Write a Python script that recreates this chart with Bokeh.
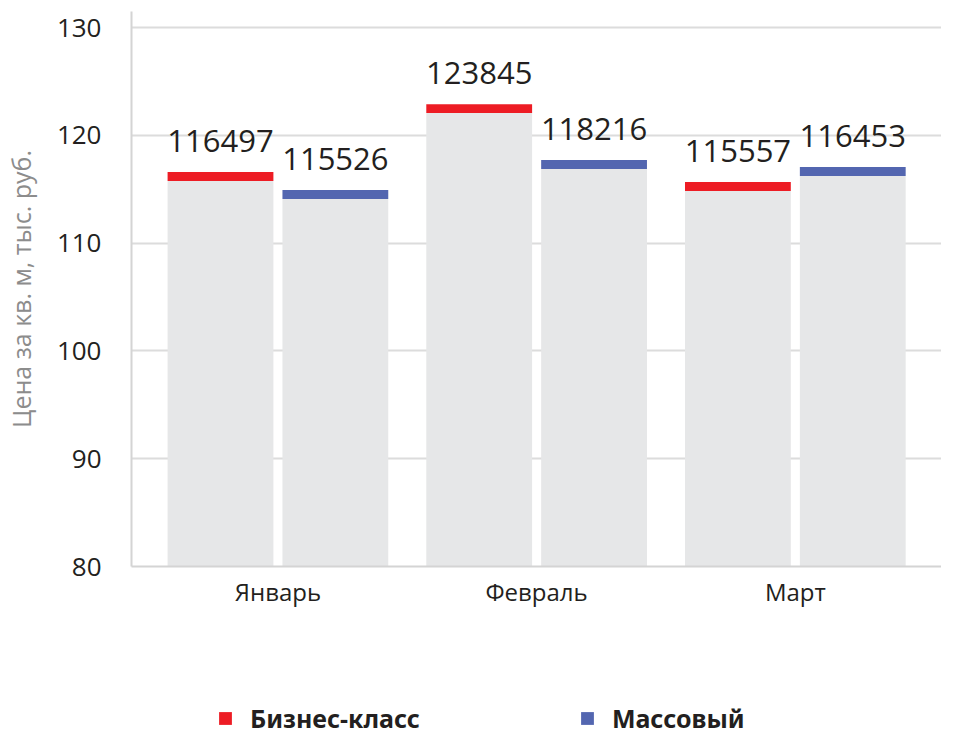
from bokeh.plotting import figure
from bokeh.layouts import column
from bokeh.models import Range1d, FixedTicker, ColumnDataSource, Legend, LegendItem
from bokeh.embed import file_html
from bokeh.resources import INLINE
from bokeh.core.properties import value

# ---- data ----
months = ["Январь", "Февраль", "Март"]
# printed labels (руб. за кв. м)
business_labels = [116497, 123845, 115557]
mass_labels = [115526, 118216, 116453]
# bar heights as drawn in the picture (тыс. руб.)
business_tops = [116.6, 122.9, 115.68]
mass_tops = [114.94, 117.71, 117.06]
series_names = ["Бизнес-класс", "Массовый"]
series_colors = ["#ED1C24", "#5366B0"]
y_ticks = [80, 90, 100, 110, 120, 130]

# ---- styling constants ----
Y0 = 80
CAP = 0.83
BAR_W = 0.409
OFFSETS = [-0.222, 0.222]
GREY = "#E6E7E8"
TEXT = "#231F20"
FONT = "Open Sans"

p = figure(width=941, height=619,
           x_range=Range1d(-0.066, 3.065), y_range=Range1d(80, 131.5),
           output_backend="svg", toolbar_location=None,
           min_border_left=110, min_border_right=0, min_border_top=11,
           min_border_bottom=53)
p.outline_line_color = None
p.background_fill_color = "white"

for tops, labels, off, color in zip([business_tops, mass_tops],
                                    [business_labels, mass_labels],
                                    OFFSETS, series_colors):
    xs = [i + 0.5 + off for i in range(len(months))]
    src = ColumnDataSource(dict(x=xs, top=tops,
                                mid=[t - CAP for t in tops],
                                bottom=[Y0] * len(tops),
                                label=[str(v) for v in labels]))
    p.vbar(x="x", bottom="bottom", top="mid", width=BAR_W, source=src,
           fill_color=GREY, line_color=None)
    p.vbar(x="x", bottom="mid", top="top", width=BAR_W, source=src,
           fill_color=color, line_color=None)
    p.text(x="x", y="top", text="label", source=src, y_offset=-31,
           text_align="center", text_baseline="alphabetic",
           text_font=value(FONT), text_font_size="31px", text_color=TEXT)

# axes
p.yaxis.ticker = FixedTicker(ticks=y_ticks)
p.yaxis.axis_label = "Цена за кв. м, тыс. руб."
p.yaxis.axis_label_text_font = FONT
p.yaxis.axis_label_text_font_style = "normal"
p.yaxis.axis_label_text_font_size = "25px"
p.yaxis.axis_label_text_color = "#8C8C8C"
p.yaxis.axis_label_standoff = 16
p.yaxis.major_label_text_font = FONT
p.yaxis.major_label_text_font_size = "26px"
p.yaxis.major_label_text_color = TEXT
p.yaxis.major_label_standoff = 24
p.yaxis.major_tick_line_color = None
p.yaxis.minor_tick_line_color = None
p.yaxis.axis_line_color = "#D4D4D4"
p.yaxis.axis_line_width = 2

p.xaxis.ticker = FixedTicker(ticks=[i + 0.5 for i in range(len(months))])
p.xaxis.major_label_overrides = {i + 0.5: m for i, m in enumerate(months)}
p.xaxis.major_label_text_font = FONT
p.xaxis.major_label_text_font_size = "24px"
p.xaxis.major_label_text_color = TEXT
p.xaxis.major_label_standoff = 2
p.xaxis.major_tick_line_color = None
p.xaxis.minor_tick_line_color = None
p.xaxis.axis_line_color = "#D4D4D4"
p.xaxis.axis_line_width = 2

p.xgrid.grid_line_color = None
p.ygrid.grid_line_color = "#DCDCDC"
p.ygrid.grid_line_width = 2

# ---- legend strip ----
LEG_H = 117
lf = figure(width=941, height=LEG_H, x_range=Range1d(0, 1), y_range=Range1d(0, 1),
            output_backend="svg", toolbar_location=None,
            x_axis_location=None, y_axis_location=None,
            min_border=0)
lf.outline_line_color = None
lf.xgrid.grid_line_color = None
lf.ygrid.grid_line_color = None
offscreen = ColumnDataSource(dict(x=[-10], top=[-10]))
leg_rs = [lf.vbar(x="x", top="top", width=0.1, source=offscreen, fill_color=c, line_color=None)
          for c in series_colors]
legend = Legend(items=[LegendItem(label=n, renderers=[r]) for n, r in zip(series_names, leg_rs)],
                orientation="horizontal", location=(86, 1),
                glyph_width=16, glyph_height=16, label_standoff=17, spacing=159,
                padding=0, margin=0, border_line_color=None, background_fill_alpha=0,
                label_text_font="Noto Sans", label_text_font_style="bold",
                label_text_font_size="25px", label_text_color=TEXT, label_height=24)
lf.add_layout(legend)

open("out.html", "w").write(file_html(column(p, lf, spacing=0), INLINE))
